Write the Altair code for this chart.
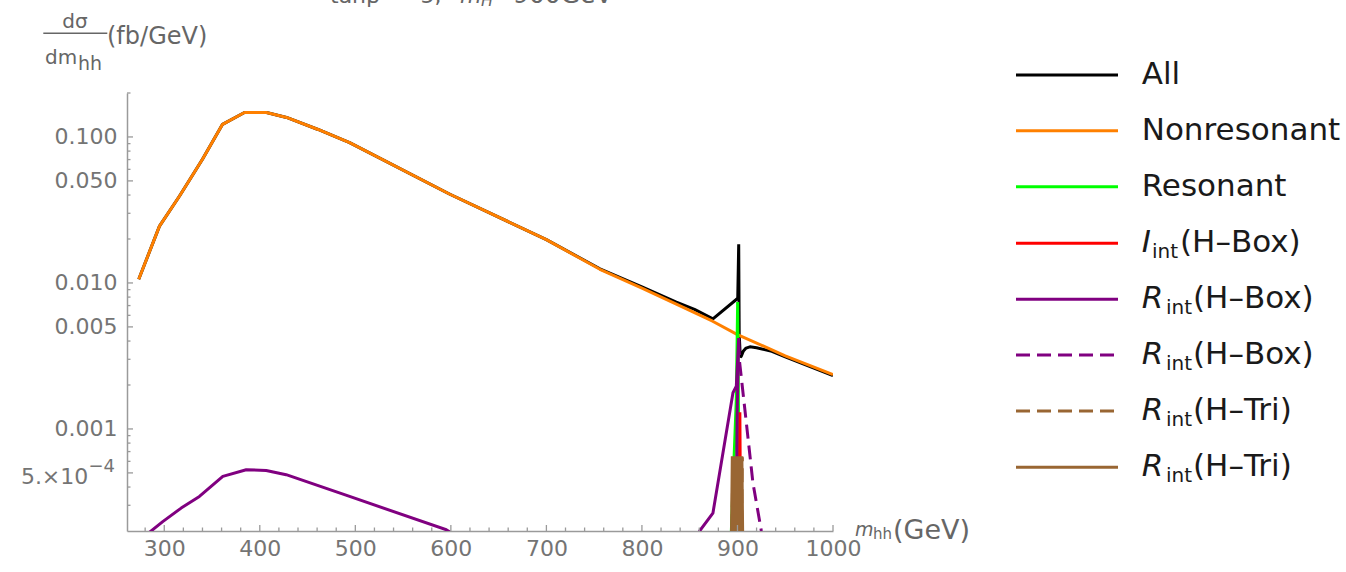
import altair as alt
import pandas as pd

# ---------------- layout ----------------
L, T, W, H = 127, 93, 706, 438
FONT = "DejaVu Sans"

# ---------------- data (m_hh in GeV, dsigma/dm_hh in fb/GeV) ----------------
nonres_m = [273.3, 295, 316, 340, 361, 384, 407, 428, 461, 494, 599, 700, 756, 800,
            836, 855, 874, 900, 950, 1000]
nonres_v = [0.0106, 0.0245, 0.0394, 0.0703, 0.122, 0.147, 0.147, 0.136, 0.1125, 0.0915,
            0.0405, 0.0198, 0.0124, 0.0092, 0.00717, 0.00626, 0.00547, 0.00443, 0.00317, 0.00236]

all_m = [273.3, 295, 316, 340, 361, 384, 407, 428, 461, 494, 599, 700, 756, 800,
         836, 855, 874.3, 898.8, 900.3, 901.3, 901.8, 903, 904, 906, 909, 913, 920,
         936, 950, 1000]
all_v = [0.0106, 0.0245, 0.0394, 0.0703, 0.122, 0.147, 0.147, 0.136, 0.1125, 0.0915,
         0.0405, 0.0198, 0.0125, 0.0094, 0.0074, 0.0066, 0.00568, 0.0077, 0.0079, 0.0184,
         0.0045, 0.0031, 0.00315, 0.0034, 0.00358, 0.00365, 0.0036, 0.0034, 0.00312, 0.00232]

res_m = [890, 893.6, 896.5, 898.8, 900.2, 901.0, 902.0]
res_v = [1.2e-4, 2.0e-4, 6.5e-4, 1.6e-3, 7.4e-3, 1.5e-3, 1.5e-4]

iint_m = [901.6, 902.5, 903.4]
iint_v = [1.5e-4, 1.3e-3, 1.5e-4]

# R_int(H-Box) solid: two separate pieces (points listed in drawing order)
rbox_a_m = [282, 298.4, 317.7, 336.8, 361.3, 385.8, 406.7, 427.6, 494, 595.2, 600]
rbox_a_v = [1.9e-4, 2.32e-4, 2.87e-4, 3.45e-4, 4.73e-4, 5.26e-4, 5.2e-4, 4.86e-4, 3.45e-4,
            2.04e-4, 1.95e-4]
rbox_b_m = [858, 860.4, 874.3, 895.3, 898.8, 901.3, 899.6, 898.6]
rbox_b_v = [1.8e-4, 2.0e-4, 2.65e-4, 1.77e-3, 1.96e-3, 4.2e-3, 1.2e-3, 1.5e-4]

rboxd_m = [901.3, 902.3, 909.3, 916.2, 925, 928]
rboxd_v = [4.0e-3, 2.85e-3, 1.1e-3, 4.27e-4, 2.0e-4, 1.6e-4]

rtrid_m = [894.1, 895.1, 896.1, 897.1, 898.1, 899.1, 900.1, 901.1, 902.1, 903.1, 904.1, 905.1]
rtrid_v = [1.5e-4, 6.4e-4, 1.5e-4, 6.4e-4, 1.5e-4, 6.4e-4, 1.5e-4, 6.4e-4, 1.5e-4, 6.4e-4,
           1.5e-4, 6.4e-4]
rtri_m = [893.6, 894.6, 895.6, 896.6, 897.6, 898.6, 899.6, 900.6, 901.6, 902.6, 903.6,
          904.6, 905.6]
rtri_v = [1.5e-4, 6.5e-4, 1.5e-4, 6.5e-4, 1.5e-4, 6.5e-4, 1.5e-4, 6.5e-4, 1.5e-4, 6.5e-4,
          1.5e-4, 6.5e-4, 1.5e-4]

# ticks / labels
x_major = [300, 400, 500, 600, 700, 800, 900, 1000]
x_minor = [280, 320, 340, 360, 380, 420, 440, 460, 480, 520, 540, 560, 580, 620, 640, 660,
           680, 720, 740, 760, 780, 820, 840, 860, 880, 920, 940, 960, 980]
y_labeled = [0.1, 0.05, 0.01, 0.005, 0.001]
y_major = [0.1, 0.05, 0.01, 0.005, 0.001, 0.0005]
y_minor = [0.2, 0.09, 0.08, 0.07, 0.06, 0.04, 0.03, 0.02, 0.009, 0.008, 0.007, 0.006,
           0.004, 0.003, 0.002, 0.0009, 0.0008, 0.0007, 0.0006, 0.0004, 0.0003]

# legend: (main, subscript, rest, color, dash)
legend_rows = [
    ("All", "", "", "#000000", None),
    ("Nonresonant", "", "", "#FF8000", None),
    ("Resonant", "", "", "#00FF00", None),
    ("I", "int", "(H\u2013Box)", "#FF0000", None),
    ("R", "int", "(H\u2013Box)", "#800080", None),
    ("R", "int", "(H\u2013Box)", "#800080", [14, 7]),
    ("R", "int", "(H\u2013Tri)", "#996633", [14, 7]),
    ("R", "int", "(H\u2013Tri)", "#996633", None),
]
legend_y = [75, 130.7, 186.7, 243.3, 299.3, 355, 411, 467.3]

# ---------------- encodings ----------------
LABEL_COLOR = "#747474"
x_axis = alt.Axis(values=x_major, format="d", labelFont=FONT, labelFontSize=22,
                  labelColor=LABEL_COLOR, ticks=False, domainColor="#9a9a9a", domainWidth=1.5,
                  labelPadding=7, title=None, grid=False, labelFlush=False)
y_axis = alt.Axis(values=y_labeled, format=".3f", labelFont=FONT, labelFontSize=22,
                  labelColor=LABEL_COLOR, ticks=False, domainColor="#9a9a9a", domainWidth=1.5,
                  labelPadding=10, title=None, grid=False, labelFlush=False)
xs = alt.Scale(domain=[261, 1000], nice=False, zero=False)
ys = alt.Scale(type="log", domain=[2e-4, 0.2], nice=False)
X = alt.X("m:Q", scale=xs, axis=x_axis)
Y = alt.Y("v:Q", scale=ys, axis=y_axis)


def series_layer(segments, color, dash=None):
    rows = []
    for si, (ms, vs) in enumerate(segments):
        for i, (m, v) in enumerate(zip(ms, vs)):
            rows.append({"m": m, "v": v, "seg": si, "i": i})
    kw = dict(color=color, strokeWidth=3, clip=True, strokeJoin="bevel")
    if dash:
        kw["strokeDash"] = dash
    return alt.Chart(pd.DataFrame(rows)).mark_line(**kw).encode(
        x=X, y=Y, detail="seg:N", order="i:Q")


def txt(s, px, py, size, color="#666666", align="left", baseline="middle", style="normal"):
    return alt.Chart(pd.DataFrame({"t": [s]})).mark_text(
        align=align, baseline=baseline, font=FONT, fontSize=size, fontStyle=style,
        color=color).encode(text="t:N", x=alt.value(px - L), y=alt.value(py - T))


layers = [
    series_layer([(all_m, all_v)], "#000000"),
    series_layer([(nonres_m, nonres_v)], "#FF8000"),
    series_layer([(res_m, res_v)], "#00FF00"),
    series_layer([(iint_m, iint_v)], "#FF0000"),
    series_layer([(rbox_a_m, rbox_a_v), (rbox_b_m, rbox_b_v)], "#800080"),
    series_layer([(rboxd_m, rboxd_v)], "#800080", [14, 7]),
    series_layer([(rtrid_m, rtrid_v)], "#996633", [14, 7]),
    series_layer([(rtri_m, rtri_v)], "#996633"),
]

# inward ticks
tick_color = "#9a9a9a"
layers.append(alt.Chart(pd.DataFrame({"v": y_major})).mark_rule(color=tick_color, strokeWidth=1.3)
              .encode(y=Y, x=alt.value(0), x2=alt.value(6)))
layers.append(alt.Chart(pd.DataFrame({"v": y_minor})).mark_rule(color=tick_color, strokeWidth=1.3)
              .encode(y=Y, x=alt.value(0), x2=alt.value(3.5)))
layers.append(alt.Chart(pd.DataFrame({"m": x_major})).mark_rule(color=tick_color, strokeWidth=1.3)
              .encode(x=X, y=alt.value(H), y2=alt.value(H - 6)))
layers.append(alt.Chart(pd.DataFrame({"m": x_minor})).mark_rule(color=tick_color, strokeWidth=1.3)
              .encode(x=X, y=alt.value(H), y2=alt.value(H - 3.5)))

# 5 x 10^-4 label
layers.append(txt("5.\u00d710", 88.3, 477, 22, LABEL_COLOR, align="right"))
layers.append(txt("\u22124", 88.5, 467, 18, LABEL_COLOR))

# y-axis title (fraction)
layers.append(txt("d\u03c3", 75, 22, 20, align="center"))
layers.append(alt.Chart(pd.DataFrame({"a": [0]})).mark_rule(color="#666666", strokeWidth=1.5)
              .encode(x=alt.value(43.3 - L), x2=alt.value(107.3 - L), y=alt.value(33.3 - T)))
layers.append(txt("dm", 45, 57.5, 20))
layers.append(txt("hh", 78, 64, 19))
layers.append(txt("(fb/GeV)", 107, 36.7, 24))

# x-axis title
layers.append(txt("m", 855, 530, 19, style="italic"))
layers.append(txt("hh", 873, 534, 15))
layers.append(txt("(GeV)", 893, 531, 27))

# top title (cut off by the page edge, as in the reference)
layers.append(txt("tan\u03b2", 330, 3, 22, baseline="alphabetic"))
layers.append(txt("= 5,", 395, 3, 22, baseline="alphabetic"))
layers.append(txt("m", 460, 3, 22, baseline="alphabetic", style="italic"))
layers.append(txt("H", 481, 6, 16, baseline="alphabetic", style="italic"))
layers.append(txt("=", 494, 3, 22, baseline="alphabetic"))
layers.append(txt("900GeV", 513, 3, 25, baseline="alphabetic"))

# legend
for (main, sub, rest, color, dash), ly in zip(legend_rows, legend_y):
    kw = dict(color=color, strokeWidth=3)
    if dash:
        kw["strokeDash"] = dash
    layers.append(alt.Chart(pd.DataFrame({"a": [0]})).mark_rule(**kw)
                  .encode(x=alt.value(1016 - L), x2=alt.value(1118 - L), y=alt.value(ly - T)))
    if not sub:
        layers.append(txt(main, 1141.7, ly, 31, "#1a1a1a"))
    else:
        if main == "I":
            sx, rx = 1152, 1180
        else:
            sx, rx = 1166, 1193
        layers.append(txt(main, 1141.7, ly, 31, "#1a1a1a", style="italic"))
        layers.append(txt(sub, sx, ly + 9, 20, "#1a1a1a"))
        layers.append(txt(rest, rx, ly, 31, "#1a1a1a"))

chart = alt.layer(*layers).properties(
    width=W, height=H,
    autosize=alt.AutoSizeParams(type="none"),
    padding={"left": L, "top": T, "right": 1346 - L - W, "bottom": 572 - T - H},
).configure_view(stroke=None)

chart.save("out.html", embed_options={"renderer": "svg", "actions": False})
